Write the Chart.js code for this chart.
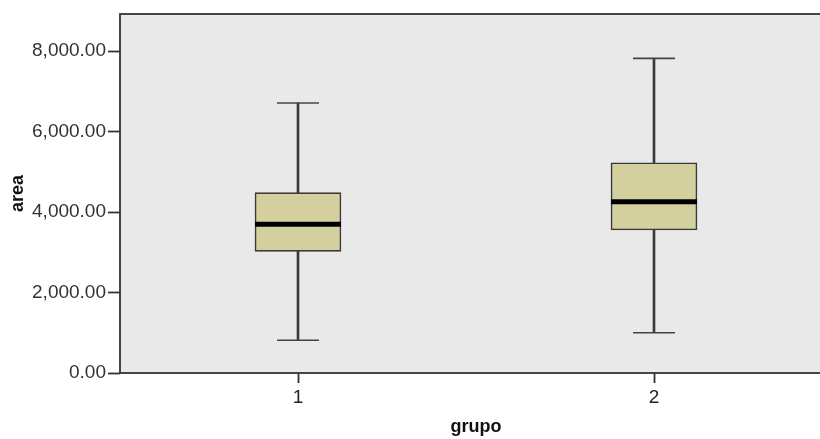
<!DOCTYPE html>
<html>
<head>
<meta charset="utf-8">
<script src="https://cdn.jsdelivr.net/npm/chart.js@4/dist/chart.umd.min.js"></script>
<style>
  html, body { margin: 0; padding: 0; overflow: hidden; background: #fff; }
  #wrap { width: 840px; height: 439px; }
</style>
</head>
<body>
<div id="wrap"><canvas id="box" width="840" height="439"></canvas></div>
<script>
// ═══ DATA ═══
const GROUPS = ['1', '2'];
const LOWER  = [812, 1001];
const Q1     = [3023, 3553];
const MEDIAN = [3694, 4256];
const Q3     = [4480, 5225];
const UPPER  = [6708, 7818];
const Y_TICKS = [0, 2000, 4000, 6000, 8000];
const Y_MAX = 8920;

const INK = '#333';
const FONT = 'Liberation Sans, Arial, sans-serif';

// ═══ PLOT FRAME ═══
const frame = {
  id: 'frame',
  beforeDatasetsDraw(chart) {
    const { ctx, chartArea: a } = chart;
    ctx.save();
    ctx.fillStyle = '#e9e9e9';
    ctx.fillRect(a.left, a.top, a.right - a.left, a.bottom - a.top);
    ctx.restore();
  },
  afterDraw(chart) {
    const { ctx, chartArea: a } = chart;
    ctx.save();
    ctx.strokeStyle = INK;
    ctx.lineWidth = 1.8;
    ctx.strokeRect(a.left, a.top, a.right - a.left, a.bottom - a.top);
    ctx.restore();
  }
};

const pairs = (a, b) => a.map((v, i) => [v, b[i]]);

new Chart(document.getElementById('box'), {
  type: 'bar',
  data: {
    labels: GROUPS,
    datasets: [
      { // median bar
        type: 'line', data: MEDIAN, showLine: false, order: 0,
        pointStyle: 'line', pointRadius: 43, pointBorderWidth: 5,
        pointBorderColor: '#000', pointBackgroundColor: '#000'
      },
      { // upper caps
        type: 'line', data: UPPER, showLine: false, order: 0,
        pointStyle: 'line', pointRadius: 21, pointBorderWidth: 1.6,
        pointBorderColor: '#444'
      },
      { // lower caps
        type: 'line', data: LOWER, showLine: false, order: 0,
        pointStyle: 'line', pointRadius: 21, pointBorderWidth: 1.6,
        pointBorderColor: '#444'
      },
      { // box
        data: pairs(Q1, Q3), order: 1, grouped: false,
        barThickness: 86, backgroundColor: '#d3cf9f',
        borderColor: '#3a3a3a', borderWidth: 1.6, borderSkipped: false
      },
      { // lower whisker
        data: pairs(LOWER, Q1), order: 2, grouped: false,
        barThickness: 2, backgroundColor: '#3a3a3a', borderWidth: 0
      },
      { // upper whisker
        data: pairs(Q3, UPPER), order: 2, grouped: false,
        barThickness: 2, backgroundColor: '#3a3a3a', borderWidth: 0
      }
    ]
  },
  options: {
    responsive: false,
    animation: false,
    events: [],
    layout: { autoPadding: false, padding: { top: 14, right: 8, left: 0, bottom: 0 } },
    plugins: { legend: { display: false }, tooltip: { enabled: false } },
    scales: {
      x: {
        offset: true,
        border: { display: false },
        grid: { offset: false, drawOnChartArea: false, drawTicks: true, tickLength: 10, tickColor: INK, tickWidth: 1.8 },
        ticks: { color: '#222', padding: 3, font: { family: FONT, size: 19 } },
        title: { display: true, text: 'grupo', color: '#111', padding: { top: 0, bottom: 1 },
                 font: { family: FONT, size: 18, weight: 'bold' } },
        afterFit(s) { s.height = 66; }
      },
      y: {
        min: 0, max: Y_MAX,
        border: { display: false },
        grid: { drawOnChartArea: false, drawTicks: true, tickLength: 12, tickColor: INK, tickWidth: 1.8 },
        afterBuildTicks(s) { s.ticks = Y_TICKS.map(v => ({ value: v })); },
        ticks: {
          color: '#333', padding: 2, font: { family: FONT, size: 19 },
          callback: v => v.toLocaleString('en-US', { minimumFractionDigits: 2, maximumFractionDigits: 2 })
        },
        title: { display: true, text: 'area', color: '#111', padding: { top: 7, bottom: 0 },
                 font: { family: FONT, size: 18, weight: 'bold' } },
        afterFit(s) { s.width = 120; }
      }
    }
  },
  plugins: [frame]
});
</script>
</body>
</html>
